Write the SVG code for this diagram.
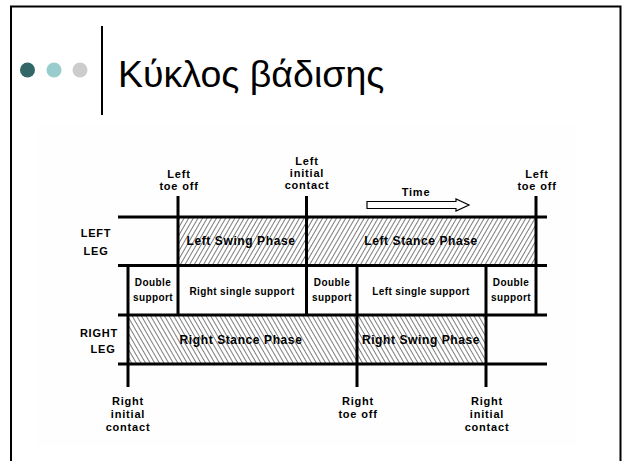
<svg xmlns="http://www.w3.org/2000/svg" width="624" height="461" viewBox="0 0 624 461">
<defs>
<pattern id="hatchF" patternUnits="userSpaceOnUse" width="4" height="4" patternTransform="rotate(30)">
<rect width="4" height="4" fill="#fff"/>
<line x1="0" y1="0" x2="0" y2="4" stroke="#111" stroke-width="1.1"/>
</pattern>
<pattern id="hatchB" patternUnits="userSpaceOnUse" width="4" height="4" patternTransform="rotate(-30)">
<rect width="4" height="4" fill="#fff"/>
<line x1="0" y1="0" x2="0" y2="4" stroke="#111" stroke-width="1.1"/>
</pattern>
</defs>
<style>
.lbl{font-family:"Liberation Sans",Arial,sans-serif;font-weight:bold;font-size:11px;letter-spacing:0.8px;text-anchor:middle;fill:#000}
.cell{font-family:"Liberation Sans",Arial,sans-serif;font-weight:bold;font-size:10px;letter-spacing:0.4px;text-anchor:middle;fill:#000}
.ph{font-family:"Liberation Sans",Arial,sans-serif;font-weight:bold;font-size:12px;letter-spacing:0.6px;text-anchor:middle;fill:#000}
.leg{font-family:"Liberation Sans",Arial,sans-serif;font-weight:bold;font-size:11px;letter-spacing:0.8px;text-anchor:middle;fill:#000}
.ln{stroke:#000;stroke-width:3;fill:none}
</style>
<rect width="624" height="461" fill="#fff"/>
<path d="M11,461 V6.5 H620.5 V461" fill="none" stroke="#000" stroke-width="2"/>
<g id="header">
<circle cx="27.5" cy="70" r="7.5" fill="#336666"/>
<circle cx="54" cy="70" r="7.5" fill="#99CCCC"/>
<circle cx="80" cy="70" r="7.5" fill="#CCCCCC"/>
<line x1="102" y1="26" x2="102" y2="115" stroke="#000" stroke-width="2"/>
<text x="118" y="87" font-family="Liberation Sans, Arial, sans-serif" font-size="37.5" fill="#000">Κύκλος βάδισης</text>
</g>
<rect x="36" y="125" width="541" height="321" fill="#fefefe"/>
<g id="phases">
<g id="left-swing"><rect x="178" y="217" width="128" height="48" fill="url(#hatchF)"/><text class="ph" x="241" y="245">Left Swing Phase</text></g>
<g id="left-stance"><rect x="306" y="217" width="230" height="48" fill="url(#hatchF)"/><text class="ph" x="421" y="245">Left Stance Phase</text></g>
<g id="right-stance"><rect x="128" y="315" width="229" height="49" fill="url(#hatchB)"/><text class="ph" x="241" y="344">Right Stance Phase</text></g>
<g id="right-swing"><rect x="357" y="315" width="129" height="49" fill="url(#hatchB)"/><text class="ph" x="421" y="344">Right Swing Phase</text></g>
</g>
<g id="connectors">
<line class="ln" x1="118" y1="217" x2="547" y2="217"/>
<line class="ln" x1="118" y1="265.5" x2="547" y2="265.5"/>
<line class="ln" x1="118" y1="315" x2="547" y2="315"/>
<line class="ln" x1="118" y1="364" x2="547" y2="364"/>
<line class="ln" x1="128" y1="265" x2="128" y2="387"/>
<line class="ln" x1="178" y1="196" x2="178" y2="315"/>
<line class="ln" x1="306.5" y1="196" x2="306.5" y2="315"/>
<line class="ln" x1="357" y1="265" x2="357" y2="387"/>
<line class="ln" x1="486" y1="265" x2="486" y2="387"/>
<line class="ln" x1="536" y1="196" x2="536" y2="315"/>
</g>
<g id="time-arrow">
<path d="M367,201.5 H456 V199 L469,205 L456,211 V208.5 H367 Z" fill="#fff" stroke="#000" stroke-width="1.2"/>
<text class="lbl" x="416" y="196">Time</text>
</g>
<g id="leg-labels">
<text class="leg" x="96" y="237">LEFT</text>
<text class="leg" x="96" y="255">LEG</text>
<text class="leg" x="99" y="337">RIGHT</text>
<text class="leg" x="103" y="353">LEG</text>
</g>
<g id="top-events">
<g id="left-toe-off-1"><text class="lbl" x="179" y="178">Left</text><text class="lbl" x="179" y="190">toe off</text></g>
<g id="left-initial-contact"><text class="lbl" x="307" y="165">Left</text><text class="lbl" x="307" y="177">initial</text><text class="lbl" x="307" y="189">contact</text></g>
<g id="left-toe-off-2"><text class="lbl" x="537" y="178">Left</text><text class="lbl" x="537" y="190">toe off</text></g>
</g>
<g id="support-cells">
<g id="ds1"><text class="cell" x="153" y="286">Double</text><text class="cell" x="153" y="301">support</text></g>
<g id="rss"><text class="cell" x="242" y="295">Right single support</text></g>
<g id="ds2"><text class="cell" x="332" y="286">Double</text><text class="cell" x="332" y="301">support</text></g>
<g id="lss"><text class="cell" x="421" y="295">Left single support</text></g>
<g id="ds3"><text class="cell" x="511" y="286">Double</text><text class="cell" x="511" y="301">support</text></g>
</g>
<g id="bottom-events">
<g id="right-initial-contact-1"><text class="lbl" x="128" y="405">Right</text><text class="lbl" x="128" y="418">initial</text><text class="lbl" x="128" y="431">contact</text></g>
<g id="right-toe-off"><text class="lbl" x="358" y="405">Right</text><text class="lbl" x="358" y="418">toe off</text></g>
<g id="right-initial-contact-2"><text class="lbl" x="487" y="405">Right</text><text class="lbl" x="487" y="418">initial</text><text class="lbl" x="487" y="431">contact</text></g>
</g>
</svg>
